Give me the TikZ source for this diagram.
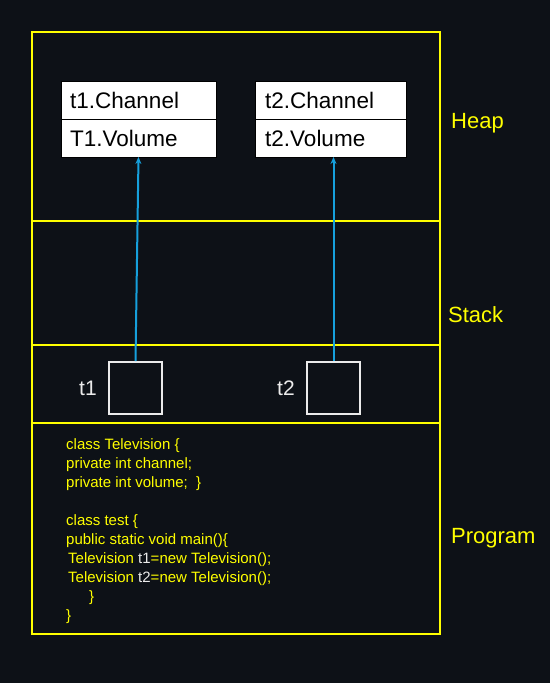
\documentclass[tikz,border=0pt]{standalone}
\usepackage{fontspec}
\setmainfont{Liberation Sans}
\usetikzlibrary{arrows.meta}
\definecolor{bg}{RGB}{13,17,23}
\definecolor{ylw}{RGB}{255,255,0}
\definecolor{arr}{RGB}{22,160,220}
\definecolor{lite}{RGB}{235,235,235}
\tikzset{
  cell/.style={draw=black, line width=1pt, fill=white, minimum height=38pt, inner sep=0pt, outer sep=0pt},
  celltext/.style={anchor=west, inner sep=0pt, text=black, font=\fontsize{22.5}{26}\selectfont},
  refbox/.style={draw=lite, line width=1.8pt, minimum width=53pt, minimum height=52pt, inner sep=0pt},
  varlabel/.style={text=lite, font=\fontsize{21}{25}\selectfont, inner sep=0pt},
  arealabel/.style={text=ylw, anchor=west, inner sep=0pt, font=\fontsize{22}{26}\selectfont},
  codeline/.style={text=ylw, anchor=base west, inner sep=0pt, font=\fontsize{15}{18}\selectfont},
  pointer/.style={draw=arr, line width=2pt, -{Stealth[length=7pt,width=6pt]}},
  frame/.style={draw=ylw, line width=1.8pt}
}
\begin{document}
\begin{tikzpicture}[x=1pt,y=-1pt]
\fill[bg] (0,0) rectangle (550,683);
\useasboundingbox (0,0) rectangle (550,683);
% frame
\draw[frame] (32,32) rectangle (440,634);
\draw[frame] (32,221) -- (440,221);
\draw[frame] (32,345) -- (440,345);
\draw[frame] (32,423) -- (440,423);
% heap objects
\node[cell, minimum width=155pt] (c1) at (138.5,100) {};
\node[cell, minimum width=155pt] (v1) at (138.5,138) {};
\node[celltext] (c1t) at (70,100) {t1.Channel};
\node[celltext] (v1t) at (70,138) {T1.Volume};
\node[cell, minimum width=151pt] (c2) at (330.5,100) {};
\node[cell, minimum width=151pt] (v2) at (330.5,138) {};
\node[celltext] (c2t) at (265,100) {t2.Channel};
\node[celltext] (v2t) at (265,138) {t2.Volume};
% stack references
\node[refbox] (sb1) at (135.5,388) {};
\node[refbox] (sb2) at (333.5,388) {};
\node[varlabel] (l1) at (88,388) {t1};
\node[varlabel] (l2) at (286,388) {t2};
% pointers
\draw[pointer] (sb1.north) -- (v1.south);
\draw[pointer] (sb2.north) -- (sb2.north |- v2.south);
% area labels
\node[arealabel] (heap) at (451,123) {Heap};
\node[arealabel] (stack) at (448,315) {Stack};
\node[arealabel] (prog) at (451,538) {Program};
% code
\node[codeline] (k1) at (66,449) {class Television \{};
\node[codeline] (k2) at (66,468) {private int channel;};
\node[codeline] (k3) at (66,487) {private int volume;\ \ \}};
\node[codeline] (k4) at (66,525) {class test \{};
\node[codeline] (k5) at (66,544) {public static void main()\{};
\node[codeline] (k6) at (68,563) {Television \textcolor{lite}{t1}=new Television();};
\node[codeline] (k7) at (68,582) {Television \textcolor{lite}{t2}=new Television();};
\node[codeline] (k8) at (89,601) {\}};
\node[codeline] (k9) at (66,620) {\}};
\end{tikzpicture}
\end{document}
